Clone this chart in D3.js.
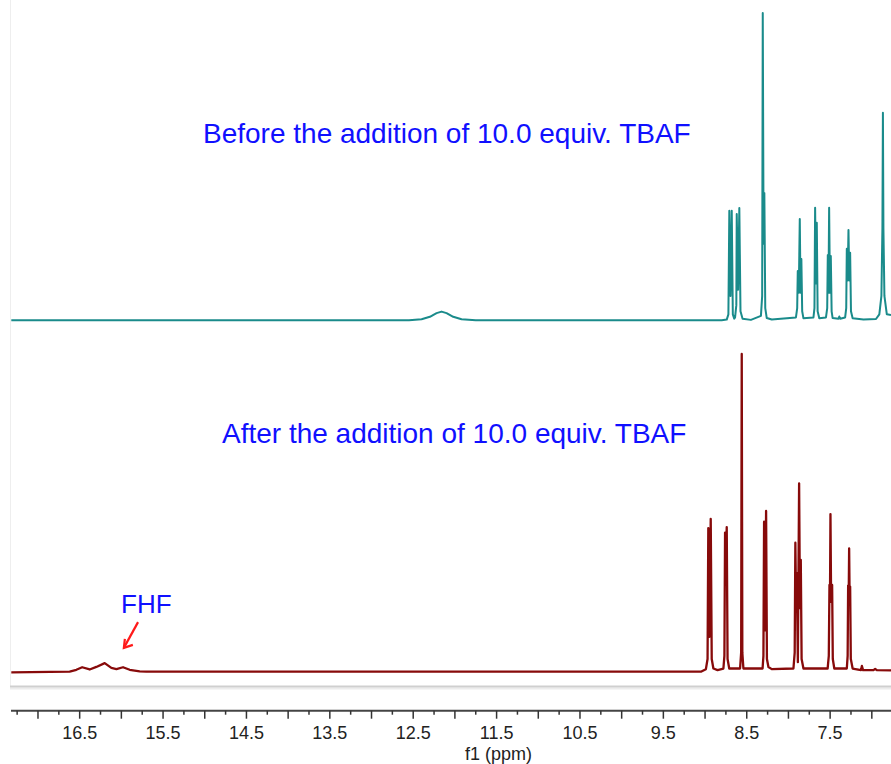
<!DOCTYPE html>
<html>
<head>
<meta charset="utf-8">
<script src="https://cdn.jsdelivr.net/npm/d3@7"></script>
<style>
body { margin: 0; background: #fff; }
text { font-family: "Liberation Sans", Arial, sans-serif; }
</style>
</head>
<body>
<script>
// spectrum vertices: chemical shift (ppm) and relative intensity (tallest line = 100)
var topPpm = [17.32, 12.55, 12.40, 12.30, 12.22, 12.16, 12.10, 12.02, 11.92, 11.75,
  8.80, 8.74, 8.72, 8.709, 8.695, 8.680, 8.667, 8.65,
  8.64, 8.625, 8.620, 8.604, 8.589, 8.575, 8.55, 8.45,
  8.33, 8.315, 8.308, 8.298, 8.289, 8.278, 8.26, 8.20,
  7.91, 7.895, 7.888, 7.876, 7.864, 7.855, 7.845, 7.835, 7.82,
  7.70, 7.688, 7.680, 7.670, 7.660, 7.650, 7.63,
  7.55, 7.535, 7.528, 7.520, 7.512, 7.502, 7.492, 7.482, 7.47,
  7.40, 7.39, 7.38,
  7.32, 7.307, 7.300, 7.290, 7.280, 7.270, 7.260, 7.250, 7.23, 7.10,
  6.95, 6.91, 6.885, 6.873, 6.867, 6.861, 6.849, 6.82, 6.77];
var topInt = [0.1, 0.1, 0.4, 1.2, 2.4, 2.9, 2.4, 1.2, 0.4, 0.1,
  0.1, 0.3, 2, 35.7, 8, 35.7, 2, 0.6,
  1, 5, 34.6, 10, 36.6, 3, 0.6, 0.2,
  1.5, 8, 100, 25, 41.5, 4, 0.8, 0.3,
  1, 4, 16.1, 9, 33.0, 9, 20, 3, 0.7,
  1, 4, 36.7, 12, 31.8, 3, 0.7,
  1, 4, 21.3, 9, 36.7, 9, 21, 3, 0.8,
  0.6, 1.3, 0.6,
  1, 4, 23.3, 13, 29.4, 13, 22, 3, 0.7, 0.3,
  0.5, 2, 8, 30, 67.6, 30, 8, 2, 1.8];

var botPpm = [17.32, 16.62, 16.54, 16.47, 16.38, 16.30, 16.20, 16.12, 16.06, 15.98, 15.90, 15.78, 15.70,
  9.05, 8.99, 8.97, 8.961, 8.947, 8.932, 8.92, 8.90, 8.85,
  8.78, 8.768, 8.760, 8.750, 8.740, 8.730, 8.71,
  8.580, 8.567, 8.560, 8.553, 8.54,
  8.31, 8.300, 8.292, 8.280, 8.268, 8.258, 8.24, 8.20,
  7.94, 7.925, 7.917, 7.908, 7.900, 7.887, 7.872, 7.862, 7.852, 7.842, 7.82,
  7.53, 7.516, 7.508, 7.502, 7.496, 7.488, 7.476, 7.468, 7.45,
  7.30, 7.29, 7.284, 7.278, 7.272, 7.266, 7.260, 7.252, 7.23,
  7.13, 7.119, 7.105, 6.98, 6.96, 6.94, 6.77];
var botInt = [-0.2, 0, 0.6, 1.4, 0.7, 1.5, 2.7, 1.2, 0.8, 1.4, 0.6, 0.1, 0,
  0, 0.8, 4, 45.2, 11, 48.1, 4, 1, 0.5,
  1, 5, 43.8, 36, 45.5, 4, 1,
  1, 6, 100, 6, 1,
  1, 5, 47.2, 13, 50.6, 4, 1.5, 0.8,
  1, 6, 40.6, 20, 31.1, 3, 59.3, 20, 35.2, 4, 1,
  1, 5, 27.3, 22, 49.6, 22, 27.3, 4, 1,
  1, 5, 27.1, 22, 38.8, 22, 26.8, 4, 1,
  0.5, 1.8, 0.5, 0.5, 0.9, 0.5, 0.4];

var majorTicks = [17.0, 16.5, 16.0, 15.5, 15.0, 14.5, 14.0, 13.5, 13.0, 12.5, 12.0,
  11.5, 11.0, 10.5, 10.0, 9.5, 9.0, 8.5, 8.0, 7.5, 7.0];
var minorTicks = [17.25, 16.75, 16.25, 15.75, 15.25, 14.75, 14.25, 13.75, 13.25, 12.75,
  12.25, 11.75, 11.25, 10.75, 10.25, 9.75, 9.25, 8.75, 8.25, 7.75, 7.25];
var tickLabels = ["16.5", "15.5", "14.5", "13.5", "12.5", "11.5", "10.5", "9.5", "8.5", "7.5"];
var titles = ["Before the addition of 10.0 equiv. TBAF", "After the addition of 10.0 equiv. TBAF"];
var fhfText = "FHF";
var fhfArrow = [[15.80, 15.6], [15.97, 7.5]];  // tail, tip (ppm, bottom intensity)

var W = 891, H = 764;

var svg = d3.select("body").append("svg")
  .attr("width", W)
  .attr("height", H);

var x = d3.scaleLinear().domain([17.32, 6.77]).range([11.3, 891]);
var yTop = d3.scaleLinear().domain([0, 100]).range([320.5, 13]);
var yBot = d3.scaleLinear().domain([0, 100]).range([671.7, 354]);

// frame left edge & gray separator
svg.append("line")
  .attr("x1", 10.5).attr("x2", 10.5).attr("y1", 0).attr("y2", 686)
  .attr("stroke", "#eeeeee").attr("stroke-width", 1);
svg.append("line")
  .attr("x1", 10).attr("x2", W).attr("y1", 688.5).attr("y2", 688.5)
  .attr("stroke", "#ececec").attr("stroke-width", 2);
svg.append("line")
  .attr("x1", 10).attr("x2", W).attr("y1", 686.5).attr("y2", 686.5)
  .attr("stroke", "#cfcfcf").attr("stroke-width", 2);

// spectra
var lineTop = d3.line()
  .x(function(d, i) { return x(topPpm[i]); })
  .y(function(d, i) { return yTop(topInt[i]); });
var lineBot = d3.line()
  .x(function(d, i) { return x(botPpm[i]); })
  .y(function(d, i) { return yBot(botInt[i]); });

svg.append("path")
  .datum(topPpm)
  .attr("d", lineTop)
  .attr("fill", "none")
  .attr("stroke", "#1a8b8b")
  .attr("stroke-width", 2)
  .attr("stroke-linejoin", "round");

svg.append("path")
  .datum(botPpm)
  .attr("d", lineBot)
  .attr("fill", "none")
  .attr("stroke", "#870a0a")
  .attr("stroke-width", 2.3)
  .attr("stroke-linejoin", "round");

// titles
svg.append("text")
  .attr("x", 203).attr("y", 143)
  .attr("font-size", 28).attr("fill", "#1010ff")
  .text(titles[0]);
svg.append("text")
  .attr("x", 222).attr("y", 443)
  .attr("font-size", 28).attr("fill", "#1010ff")
  .text(titles[1]);

// FHF annotation
svg.append("text")
  .attr("x", 121).attr("y", 613)
  .attr("font-size", 26).attr("fill", "#1010ff")
  .text(fhfText);

var ax0 = x(fhfArrow[0][0]), ay0 = yBot(fhfArrow[0][1]);
var ax1 = x(fhfArrow[1][0]), ay1 = yBot(fhfArrow[1][1]);
svg.append("line")
  .attr("x1", ax0).attr("y1", ay0).attr("x2", ax1).attr("y2", ay1)
  .attr("stroke", "#ff1a1a").attr("stroke-width", 2.2);
svg.append("path")
  .attr("d", "M" + (ax1 + 1) + "," + (ay1 - 9) + "L" + ax1 + "," + ay1 + "L" + (ax1 + 9) + "," + (ay1 - 3))
  .attr("fill", "none")
  .attr("stroke", "#ff1a1a").attr("stroke-width", 2.2);

// x axis
var axisY = 710.7;
var gAxis = svg.append("g");
gAxis.append("line")
  .attr("x1", 11).attr("x2", W).attr("y1", axisY).attr("y2", axisY)
  .attr("stroke", "#444").attr("stroke-width", 2);

gAxis.selectAll(".minor")
  .data(minorTicks)
  .enter().append("line")
  .attr("class", "minor")
  .attr("x1", function(d) { return x(d); })
  .attr("x2", function(d) { return x(d); })
  .attr("y1", axisY).attr("y2", axisY + 4)
  .attr("stroke", "#333").attr("stroke-width", 1.5);

gAxis.selectAll(".major")
  .data(majorTicks)
  .enter().append("line")
  .attr("class", "major")
  .attr("x1", function(d) { return x(d); })
  .attr("x2", function(d) { return x(d); })
  .attr("y1", axisY).attr("y2", axisY + 8)
  .attr("stroke", "#333").attr("stroke-width", 1.5);

gAxis.selectAll(".lbl")
  .data(tickLabels)
  .enter().append("text")
  .attr("class", "lbl")
  .attr("x", function(d) { return x(+d); })
  .attr("y", 739)
  .attr("text-anchor", "middle")
  .attr("font-size", 18)
  .attr("fill", "#222")
  .text(function(d) { return d; });

gAxis.append("text")
  .attr("x", x(11.5) + 2)
  .attr("y", 759.5)
  .attr("text-anchor", "middle")
  .attr("font-size", 18)
  .attr("fill", "#222")
  .text("f1 (ppm)");
</script>
</body>
</html>
